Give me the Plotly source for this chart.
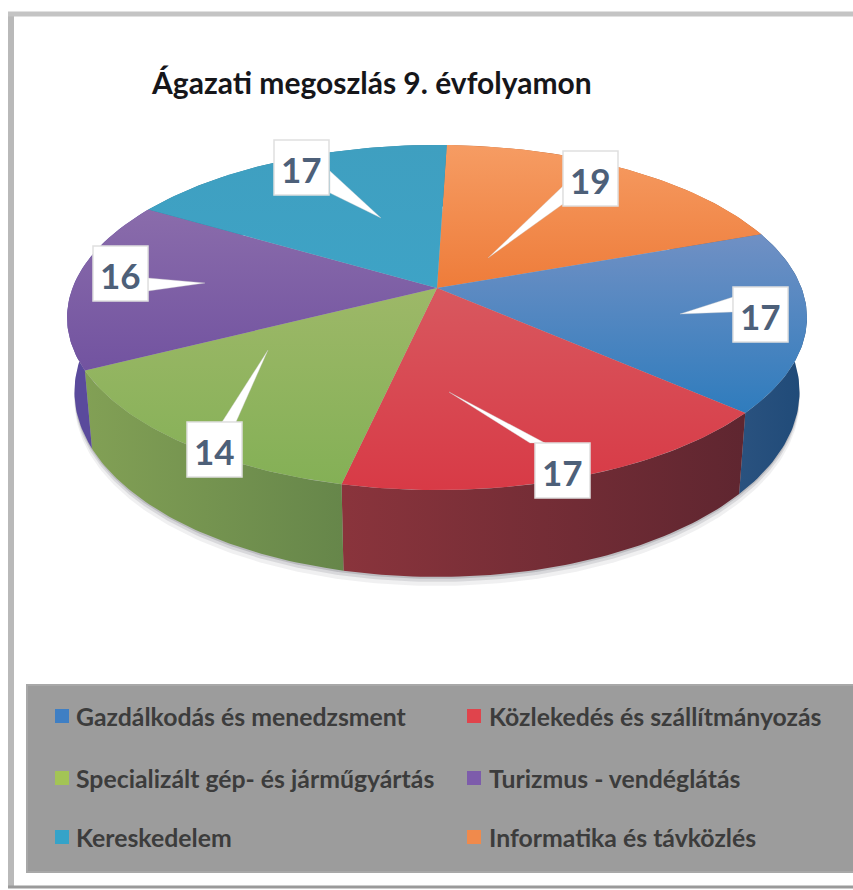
import numpy as np
import plotly.graph_objects as go

# ---- data (clockwise from 12 o'clock) ----
categories = ["Informatika és távközlés", "Gazdálkodás és menedzsment", "Közlekedés és szállítmányozás",
              "Specializált gép- és járműgyártás", "Turizmus - vendéglátás", "Kereskedelem"]
values = [19, 17, 17, 14, 16, 17]
title_text = "Ágazati megoszlás 9. évfolyamon"

# ---- styles ----
top_colors = [("#f69c63", "#ee7c3a"), ("#7090c4", "#2f7cbd"), ("#d8585f", "#d83a46"),
              ("#9db868", "#84b056"), ("#8a6cab", "#7253a0"), ("#3f9fc0", "#3ea3c6")]
side_colors = [("#b9602b", "#b9602b"), ("#2a527f", "#1f4a78"), ("#8a343c", "#5f2630"),
               ("#82a055", "#66864a"), ("#5a4a9c", "#5a4a9c"), ("#2f7f99", "#2f7f99")]
swatch_colors = ["#f08a4c", "#3f7fc4", "#e0444c", "#a3c455", "#7d5cab", "#35a3c9"]
label_color = "#4d6079"
cx, cy, rx_b, ry_a, k = 437.0, 288.0, 364.5, 167.5, 0.171
depth, lower_scale = 72.0, 0.98
start_angle_deg = 1.8

# callout layout: box left/top, tip, base (pixels on the page)
box_size = 55
boxes = [(563, 151), (733, 287), (535, 443), (187, 422), (93, 246), (274, 140)]
tips = [(488, 258), (680, 314), (449, 392), (268, 350), (205, 283), (381, 218)]
bases = [((563, 186), (563, 204)), ((733, 297), (733, 312)), ((530, 443), (545, 443)),
         ((222, 422), (236, 422)), ((148, 278), (148, 291)), ((330, 171), (330, 193))]
# legend layout (category index, swatch x, text x, row y)
legend_layout = [(1, 55, 75, 716), (2, 467, 488, 716), (3, 55, 75, 778),
                 (4, 467, 488, 778), (5, 55, 75, 837), (0, 467, 488, 837)]


def project(theta):
    u, v = np.sin(theta), np.cos(theta)
    s = 1 / (1 + k * v)
    return cx + rx_b * u * s, cy - ry_a * v * s, s


def lower(theta):
    x, y, s = project(theta)
    return cx + (x - cx) * lower_scale, y + depth * s


fig = go.Figure()
total = sum(values)
edges = np.cumsum([0] + values) / total * 2 * np.pi + np.radians(start_angle_deg)
all_t = np.linspace(0, 2 * np.pi, 400)

# soft shadow beneath the body
lx, ly = lower(all_t)
for grow, op in [(9, 0.10), (5, 0.18), (2, 0.28)]:
    fig.add_trace(go.Scatter(x=lx, y=ly + grow, mode="lines", fill="toself", line=dict(width=0),
                             fillcolor=f"rgba(110,110,120,{op})", hoverinfo="skip", showlegend=False))

# side walls
for i in range(len(values)):
    t = np.linspace(edges[i], edges[i + 1], 60)
    x1, y1, _ = project(t)
    x2, y2 = lower(t)
    fig.add_trace(go.Scatter(x=np.r_[x1, x2[::-1]], y=np.r_[y1, y2[::-1]], mode="lines", fill="toself",
                             fillgradient=dict(type="horizontal",
                                               colorscale=[[0, side_colors[i][0]], [1, side_colors[i][1]]]),
                             line=dict(width=0), hoverinfo="skip", showlegend=False))

# top faces (colorscale runs bottom to top on the reversed axis)
for i in range(len(values)):
    t = np.linspace(edges[i], edges[i + 1], 80)
    x1, y1, _ = project(t)
    fig.add_trace(go.Scatter(x=np.r_[cx, x1, cx], y=np.r_[cy, y1, cy], mode="lines", fill="toself",
                             fillgradient=dict(type="vertical",
                                               colorscale=[[0, top_colors[i][1]], [1, top_colors[i][0]]]),
                             line=dict(width=0), name=categories[i], showlegend=False,
                             hovertemplate="%{fullData.name}<extra></extra>"))

# callout pointers
for tip, (b1, b2) in zip(tips, bases):
    fig.add_trace(go.Scatter(x=[tip[0], b1[0], b2[0], tip[0]], y=[tip[1], b1[1], b2[1], tip[1]],
                             mode="lines", fill="toself", fillcolor="white",
                             line=dict(width=0.5, color="rgba(200,200,200,0.7)"),
                             hoverinfo="skip", showlegend=False))

shapes, annos = [], []
# page frame
shapes.append(dict(type="line", x0=11, x1=11, y0=14, y1=886, line=dict(color="#b9b9b9", width=6), layer="below"))
shapes.append(dict(type="line", x0=8, x1=853, y0=14, y1=14, line=dict(color="#c4c4c4", width=5), layer="below"))
shapes.append(dict(type="line", x0=8, x1=853, y0=887, y1=887, line=dict(color="#9a9a9a", width=3), layer="below"))
# legend panel
shapes.append(dict(type="rect", x0=27, x1=860, y0=685, y1=872, fillcolor="#9c9c9c",
                   line=dict(color="#a8a8a8", width=2), layer="below"))

# callout boxes and values
for i, (bx, by) in enumerate(boxes):
    shapes.append(dict(type="rect", x0=bx, x1=bx + box_size, y0=by, y1=by + box_size, fillcolor="white",
                       line=dict(color="#e0e0e0", width=1.5), layer="above"))
    annos.append(dict(x=bx + box_size / 2, y=by + box_size / 2 + 1, text=f"<b>{values[i]}</b>", showarrow=False,
                      xanchor="center", yanchor="middle",
                      font=dict(family="Lato", size=35, color=label_color)))

# legend
for idx, sx, tx, ry in legend_layout:
    shapes.append(dict(type="rect", x0=sx, x1=sx + 14, y0=ry - 7, y1=ry + 7, fillcolor=swatch_colors[idx],
                       line=dict(width=0), layer="above"))
    annos.append(dict(x=tx - 1, y=ry, text=f"<b>{categories[idx]}</b>", showarrow=False, xanchor="left", yanchor="middle",
                      font=dict(family="Lato", size=24.8, color="#3c3c3c")))

annos.append(dict(x=149, y=82, text=f"<b>{title_text}</b>", showarrow=False, xanchor="left", yanchor="middle",
                  font=dict(family="Lato", size=30, color="#16161a")))

fig.update_layout(width=853, height=890, margin=dict(l=0, r=0, t=0, b=0), autosize=False,
                  paper_bgcolor="white", plot_bgcolor="white", showlegend=False,
                  shapes=shapes, annotations=annos,
                  xaxis=dict(range=[0, 853], visible=False, fixedrange=True),
                  yaxis=dict(range=[890, 0], visible=False, fixedrange=True))
fig.write_html("out.html", config=dict(displayModeBar=False),
               post_script="document.body.style.margin='0';document.documentElement.style.overflow='hidden';")
